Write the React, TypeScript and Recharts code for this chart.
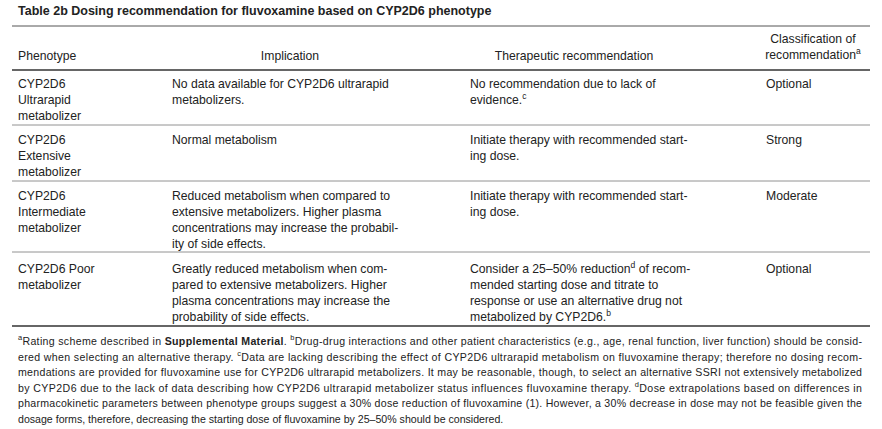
import React from "react";
import { ComposedChart, XAxis, YAxis, Customized } from "recharts";

const title = "Table 2b Dosing recommendation for fluvoxamine based on CYP2D6 phenotype";
const headers = [
  { lines: ["Phenotype"], x: 18, anchor: "start" },
  { lines: ["Implication"], x: 290, anchor: "middle" },
  { lines: ["Therapeutic recommendation"], x: 574, anchor: "middle" },
  { lines: ["Classification of", "recommendation^a"], x: 813, anchor: "middle" },
];
const phenotypes = [
  ["CYP2D6", "Ultrarapid", "metabolizer"],
  ["CYP2D6", "Extensive", "metabolizer"],
  ["CYP2D6", "Intermediate", "metabolizer"],
  ["CYP2D6 Poor", "metabolizer"],
];
const implications = [
  ["No data available for CYP2D6 ultrarapid", "metabolizers."],
  ["Normal metabolism"],
  ["Reduced metabolism when compared to", "extensive metabolizers. Higher plasma", "concentrations may increase the probabil-", "ity of side effects."],
  ["Greatly reduced metabolism when com-", "pared to extensive metabolizers. Higher", "plasma concentrations may increase the", "probability of side effects."],
];
const recommendations = [
  ["No recommendation due to lack of", "evidence.^c"],
  ["Initiate therapy with recommended start-", "ing dose."],
  ["Initiate therapy with recommended start-", "ing dose."],
  ["Consider a 25–50% reduction^d of recom-", "mended starting dose and titrate to", "response or use an alternative drug not", "metabolized by CYP2D6.^b"],
];
const classifications = ["Optional", "Strong", "Moderate", "Optional"];
const rowTops = [85, 141, 197, 270];
const rowLines = [125, 181, 252];
const footnotes = [
  "^aRating scheme described in **Supplemental Material**. ^bDrug-drug interactions and other patient characteristics (e.g., age, renal function, liver function) should be consid-",
  "ered when selecting an alternative therapy. ^cData are lacking describing the effect of CYP2D6 ultrarapid metabolism on fluvoxamine therapy; therefore no dosing recom-",
  "mendations are provided for fluvoxamine use for CYP2D6 ultrarapid metabolizers. It may be reasonable, though, to select an alternative SSRI not extensively metabolized",
  "by CYP2D6 due to the lack of data describing how CYP2D6 ultrarapid metabolizer status influences fluvoxamine therapy. ^dDose extrapolations based on differences in",
  "pharmacokinetic parameters between phenotype groups suggest a 30% dose reduction of fluvoxamine (1). However, a 30% decrease in dose may not be feasible given the",
  "dosage forms, therefore, decreasing the starting dose of fluvoxamine by 25–50% should be considered.",
];

const FONT = "'Liberation Sans', Arial, sans-serif";

function renderRich(s: string, fs: number) {
  const parts = s.split(/(\^[a-z]|\*\*[^*]+\*\*)/).filter((p) => p !== "");
  const out: React.ReactNode[] = [];
  let sup = false;
  parts.forEach((p, i) => {
    if (p.startsWith("^")) {
      out.push(<tspan key={i} dy={-fs * 0.35} fontSize={fs * 0.7}>{p.slice(1)}</tspan>);
      sup = true;
    } else {
      const bold = p.startsWith("**");
      const t = bold ? p.slice(2, -2) : p;
      out.push(
        <tspan key={i} dy={sup ? fs * 0.35 : 0} fontWeight={bold ? "bold" : undefined}>{t}</tspan>
      );
      sup = false;
    }
  });
  return out;
}

function Table() {
  const fs = 12.2;
  const lh = 16;
  const cell = (lines: string[], x: number, y: number, key: string, anchor = "start") =>
    lines.map((l, i) => (
      <text key={key + i} x={x} y={y + i * lh} fontSize={fs} fontFamily={FONT} fill="#222" textAnchor={anchor as any} dominantBaseline="middle">
        {renderRich(l, fs)}
      </text>
    ));
  return (
    <g>
      <text x={18} y={12} fontSize={12.5} fontWeight="bold" fontFamily={FONT} fill="#222" dominantBaseline="middle">{title}</text>
      <line x1={12} x2={870} y1={26} y2={26} stroke="#555" strokeWidth={1} />
      {headers.map((h, i) =>
        cell(h.lines, h.x, h.lines.length > 1 ? 40 : 57, "h" + i, h.anchor)
      )}
      <line x1={12} x2={870} y1={70} y2={70} stroke="#333" strokeWidth={1.5} />
      {rowTops.map((y, r) => (
        <g key={"r" + r}>
          {cell(phenotypes[r], 18, y, "p" + r)}
          {cell(implications[r], 172, y, "i" + r)}
          {cell(recommendations[r], 470, y, "c" + r)}
          {cell([classifications[r]], 766, y, "k" + r)}
        </g>
      ))}
      {rowLines.map((y, i) => (
        <line key={"l" + i} x1={12} x2={870} y1={y} y2={y} stroke="#777" strokeWidth={0.8} />
      ))}
      <line x1={12} x2={870} y1={326} y2={326} stroke="#333" strokeWidth={1.5} />
      {footnotes.map((f, i) => (
        <text key={"f" + i} x={18} y={342 + i * 15.5} fontSize={10.6} fontFamily={FONT} fill="#222" dominantBaseline="middle"
          {...(i < footnotes.length - 1 ? { textLength: 844, lengthAdjust: "spacing" } : {})}>
          {renderRich(f, 10.6)}
        </text>
      ))}
    </g>
  );
}

export default function App() {
  if (typeof document !== "undefined") document.body.style.margin = "0";
  return (
    <div style={{ background: "#fff", width: 882, height: 429 }}>
      <ComposedChart width={882} height={429} data={[{ x: 0 }]} margin={{ top: 0, right: 0, bottom: 0, left: 0 }}>
        <XAxis dataKey="x" hide />
        <YAxis hide />
        <Customized component={<Table />} />
      </ComposedChart>
    </div>
  );
}
